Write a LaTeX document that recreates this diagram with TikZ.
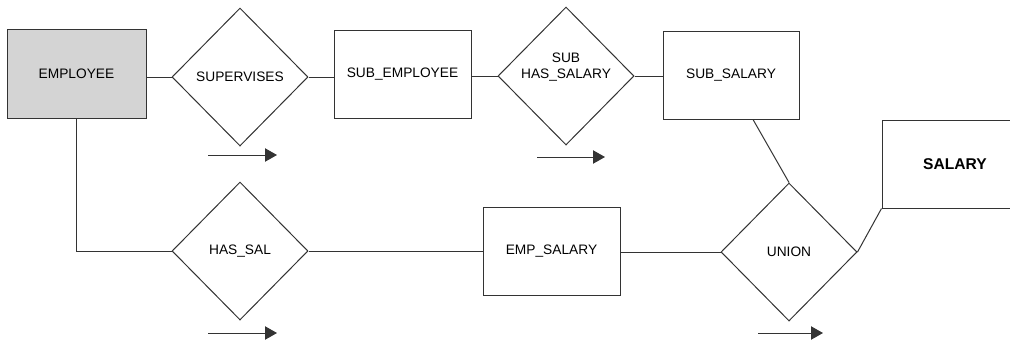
\documentclass[tikz,border=0pt]{standalone}
\usepackage{fontspec}
\setmainfont{Liberation Sans}
\usetikzlibrary{shapes.geometric,arrows.meta}
\tikzset{
  ln/.style={draw=black!80, line width=0.75pt},
  entity/.style={ln, rectangle, inner sep=0pt, font=\fontsize{10.3}{12}\selectfont},
  rel/.style={ln, diamond, inner sep=0pt, minimum width=102pt, minimum height=103.5pt, font=\fontsize{10.3}{12}\selectfont, align=center},
  dirarrow/.style={draw=black!80, line width=0.75pt, -{Triangle[length=9pt,width=10pt]}},
}
\begin{document}
\begin{tikzpicture}[x=0.75pt,y=-0.75pt]
\useasboundingbox (0,0) rectangle (1010,344);
\clip (0,0) rectangle (1010,344);
% entities
\node[entity, fill=black!17, minimum width=104.25pt, minimum height=66.75pt] (emp) at (76.5,73.5) {EMPLOYEE};
\node[entity, minimum width=102.75pt, minimum height=66pt] (subemp) at (402.5,74) {SUB\_EMPLOYEE};
\node[entity, minimum width=102pt, minimum height=66pt] (subsal) at (731,75) {SUB\_SALARY};
\node[entity, minimum width=102.75pt, minimum height=66pt] (empsal) at (551.5,251) {EMP\_SALARY};
\node[entity, minimum width=109.5pt, minimum height=66pt, font=\fontsize{11.7}{13}\selectfont\bfseries] (sal) at (955,164) {SALARY};
% relationships
\node[rel] (sup) at (240,77) {SUPERVISES};
\node[rel] (subhas) at (566,76) {SUB\\HAS\_SALARY\\[3pt]};
\node[rel] (hassal) at (240,251) {HAS\_SAL};
\node[rel] (union) at (789,252) {UNION};
% connectors
\draw[ln] (sup.west -| emp.east) -- (sup.west);
\draw[ln] (sup.east) -- (sup.east -| subemp.west);
\draw[ln] (subemp.east |- subhas.west) -- (subhas.west);
\draw[ln] (subhas.east) -- (subhas.east -| subsal.west);
\draw[ln] ([xshift=16.5pt]subsal.south) -- (union.north);
\draw[ln] (emp.south) |- (hassal.west);
\draw[ln] (hassal.east) -- (hassal.east -| empsal.west);
\draw[ln] (empsal.east |- union.west) -- (union.west);
\draw[ln] (union.east) -- (sal.south west);
% direction arrows
\coordinate (a1s) at (208,155); \coordinate (a1e) at (277,155);
\coordinate (a2s) at (537,157); \coordinate (a2e) at (605,157);
\coordinate (a3s) at (208,333); \coordinate (a3e) at (277,333);
\coordinate (a4s) at (758,333); \coordinate (a4e) at (823,333);
\draw[dirarrow] (a1s) -- (a1e);
\draw[dirarrow] (a2s) -- (a2e);
\draw[dirarrow] (a3s) -- (a3e);
\draw[dirarrow] (a4s) -- (a4e);
\end{tikzpicture}
\end{document}
